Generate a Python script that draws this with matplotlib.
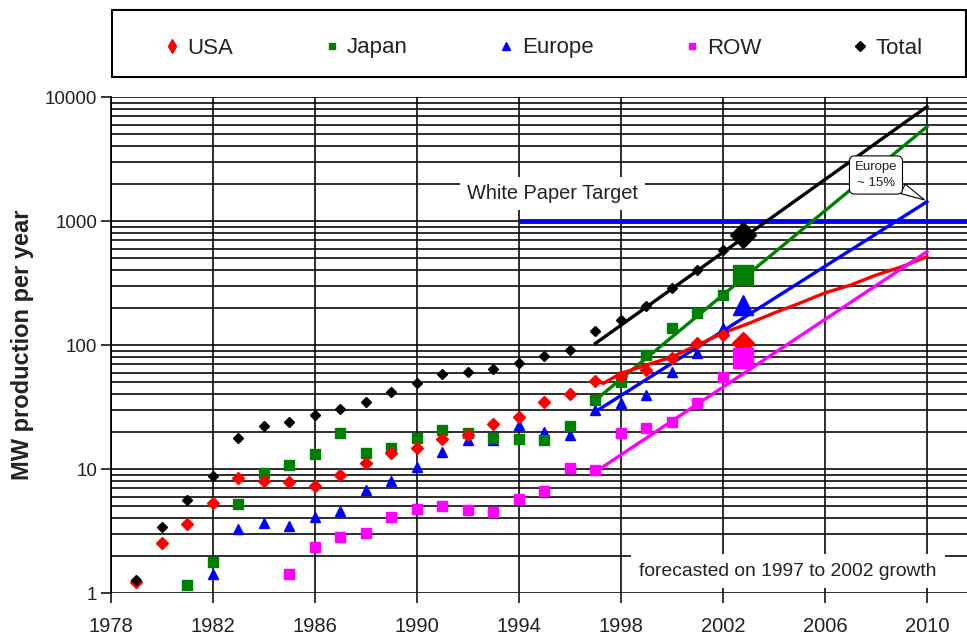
import matplotlib
matplotlib.use("Agg")
import matplotlib.pyplot as plt
from matplotlib.lines import Line2D
from matplotlib.patches import Rectangle
from matplotlib.ticker import LogLocator, NullFormatter, FixedLocator
import numpy as np

plt.rcParams['font.family'] = ['Liberation Sans', 'DejaVu Sans']

# historical production, MW per year
years_usa = list(range(1979, 2003))
usa = [1.22, 2.55, 3.6, 5.3, 8.4, 8.05, 7.8, 7.3, 8.9, 11.1, 13.5, 14.7,
       17.4, 18.8, 23, 26.4, 34.9, 40, 51, 56, 63, 78, 103, 120]
years_japan = list(range(1981, 2003))
japan = [1.16, 1.79, 5.2, 9.3, 10.8, 13.2, 19.4, 13.4, 14.9, 17.7, 20.6,
         19.4, 17.7, 17.4, 17.1, 22.2, 36, 50.6, 83, 137, 181, 253]
years_europe = list(range(1982, 2003))
europe = [1.42, 3.3, 3.65, 3.47, 4.1, 4.6, 6.8, 8.05, 10.4, 13.8, 17.1,
          17.1, 22.6, 20, 18.8, 30, 34, 39.5, 61, 86, 137]
years_row = list(range(1985, 2003))
row = [1.42, 2.36, 2.85, 3.03, 4.1, 4.8, 5.0, 4.7, 4.5, 5.7, 6.6, 10.1,
       9.8, 19.4, 21.3, 24, 33.9, 55.5]
years_total = list(range(1979, 2003))
total = [1.27, 3.42, 5.6, 8.7, 17.7, 22.2, 24.1, 27.3, 30.3, 34.9, 42, 49,
         58.4, 60.9, 63.7, 72, 81.5, 91, 130, 158, 206, 288, 402, 584]

# 2003 values (big markers)
year_2003 = 2002.8
val_2003 = {'USA': 103, 'Japan': 367, 'Europe': 210, 'ROW': 78, 'Total': 771}

# forecasts
fc_years = [1997, 2010]
japan_fc = [36, 5760]
europe_fc = [29, 1430]
row_fc = [9.5, 565]
total_fc = [103, 8350]
usa_fc_years = [1997, 1997.3, 1998, 1999, 2000, 2001, 2002, 2003, 2004,
                2005, 2006, 2007, 2008, 2009, 2010]
usa_fc = [52, 49, 59, 69, 80, 100, 125, 149, 181, 217, 263, 304, 366, 427, 515]

target_start = 1994
target = 1000

RED, GREEN, BLUE, MAG, BLK = '#ff0000', '#008000', '#0000ff', '#ff00ff', '#000000'
TXT = '#222222'

fig = plt.figure(figsize=(9.67, 6.43), dpi=100)
ax = fig.add_axes([111 / 967, 1 - 593 / 643, 1 - 111 / 967, (593 - 97) / 643])
ax.set_yscale('log')
ax.set_ylim(1, 10000)
ax.set_xlim(1978, 2011.57)
ax.set_axisbelow(True)

ax.set_xticks(range(1978, 2011, 4))
ax.yaxis.set_major_locator(FixedLocator([1, 10, 100, 1000, 10000]))
ax.set_yticklabels(['1', '10', '100', '1000', '10000'])
ax.yaxis.set_minor_locator(LogLocator(base=10, subs=range(2, 10)))
ax.yaxis.set_minor_formatter(NullFormatter())
ax.grid(True, which='both', axis='y', color='black', lw=1.15)
ax.grid(True, which='major', axis='x', color='black', lw=1.15)
ax.tick_params(axis='y', which='major', length=7, width=1.1, labelsize=13.5,
               labelcolor=TXT, pad=3)
ax.tick_params(axis='y', which='minor', length=0)
ax.tick_params(axis='x', length=7, width=1.1, labelsize=14.5, labelcolor=TXT, pad=10)
for s in ['top', 'right', 'bottom']:
    ax.spines[s].set_visible(False)
ax.spines['left'].set_linewidth(1.3)

ax.set_ylabel('MW production per year', fontsize=17, fontweight='bold',
              color=TXT, labelpad=8)

# target line
ax.hlines(target, target_start, 2011.57, color=BLUE, lw=3.5, zorder=3)

# forecast lines
ax.plot(fc_years, total_fc, color=BLK, lw=2.4, zorder=4)
ax.plot(fc_years, japan_fc, color=GREEN, lw=2.4, zorder=4)
ax.plot(fc_years, europe_fc, color=BLUE, lw=2.4, zorder=4)
ax.plot(usa_fc_years, usa_fc, color=RED, lw=2.4, zorder=4)
ax.plot(fc_years, row_fc, color=MAG, lw=2.4, zorder=4)

# historical points
ax.plot(years_row, row, 's', color=MAG, ms=6.5, ls='none', zorder=5)
ax.plot(years_europe, europe, '^', color=BLUE, ms=7.5, ls='none', zorder=5)
ax.plot(years_japan, japan, 's', color=GREEN, ms=7, ls='none', zorder=5)
ax.plot(years_usa, usa, 'D', color=RED, ms=6.5, ls='none', zorder=5)
ax.plot(years_total, total, 'D', color=BLK, ms=5.5, ls='none', zorder=6)

# 2003 big markers
ax.plot(year_2003, val_2003['Total'], 'D', color=BLK, ms=13, zorder=7)
ax.plot(year_2003, val_2003['Japan'], 's', color=GREEN, ms=14, zorder=7)
ax.plot(year_2003, val_2003['Europe'], '^', color=BLUE, ms=14, zorder=7)
ax.plot(year_2003, val_2003['USA'], 'D', color=RED, ms=11, zorder=7)
ax.plot(year_2003, val_2003['ROW'], 's', color=MAG, ms=14, zorder=7)

# annotations
ax.text(1995.3, 1680, 'White Paper Target', ha='center', va='center',
        fontsize=14.4, color=TXT, zorder=2,
        bbox=dict(boxstyle='square,pad=0.35', fc='white', ec='none'))
ax.text(2004.55, 1.5, 'forecasted on 1997 to 2002 growth', ha='center',
        va='center', fontsize=13.9, color=TXT, zorder=2,
        bbox=dict(boxstyle='square,pad=0.45', fc='white', ec='none'))
ax.annotate('Europe\n~ 15%', xy=(2009.9, 1480), xytext=(2008.0, 2350),
            fontsize=9.5, color=TXT, ha='center', va='center', linespacing=1.4,
            zorder=8,
            bbox=dict(boxstyle='round,pad=0.4', fc='white', ec='black', lw=0.8),
            arrowprops=dict(arrowstyle='wedge,tail_width=0.8', fc='white',
                            ec='black', lw=0.8, shrinkA=0, shrinkB=0))

# legend box
fig.patches.append(Rectangle((112 / 967, 1 - 77 / 643), (966 - 112) / 967,
                             67 / 643, transform=fig.transFigure,
                             fill=False, ec='black', lw=1.5))
handles = [
    Line2D([], [], marker='d', color=RED, ls='none', ms=7),
    Line2D([], [], marker='s', color=GREEN, ls='none', ms=5),
    Line2D([], [], marker='^', color=BLUE, ls='none', ms=6),
    Line2D([], [], marker='s', color=MAG, ls='none', ms=5),
    Line2D([], [], marker='D', color=BLK, ls='none', ms=5),
]
labels = ['USA', 'Japan', 'Europe', 'ROW', 'Total']
fig.legend(handles, labels, loc='center', ncol=5, mode='expand', frameon=False,
           bbox_to_anchor=(154 / 967, 1 - 60 / 643, (934 - 154) / 967, 24 / 643),
           fontsize=16, handlelength=0.6, handletextpad=0.4, borderpad=0,
           labelcolor=TXT)

fig.savefig('out.png', dpi=100)
